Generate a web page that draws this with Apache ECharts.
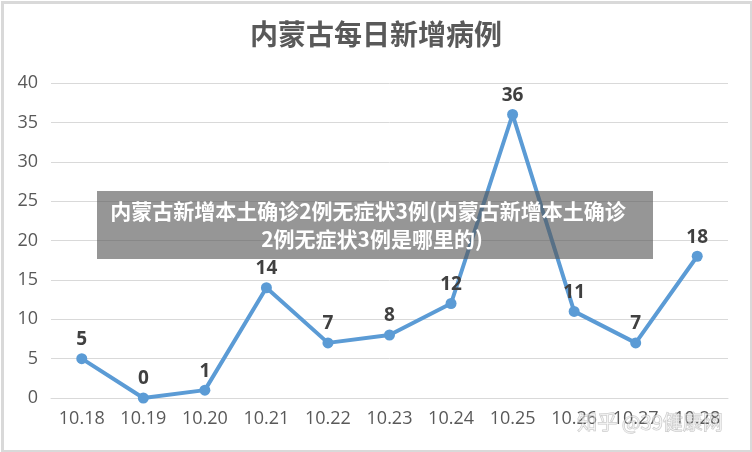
<!DOCTYPE html>
<html><head><meta charset="utf-8">
<script src="https://cdn.jsdelivr.net/npm/echarts@6/dist/echarts.min.js"></script>
<style>html,body{margin:0;padding:0;background:#fff}#c{width:752px;height:452px}</style>
</head><body><div id="c"></div>
<script>
const categories = ['10.18','10.19','10.20','10.21','10.22','10.23','10.24','10.25','10.26','10.27','10.28'];
const cases = [5,0,1,14,7,8,12,36,11,7,18];
const titleText = '内蒙古每日新增病例';
const bannerLines = ['内蒙古新增本土确诊2例无症状3例(内蒙古新增本土确诊', '2例无症状3例是哪里的)'];
const watermark = '知乎 @39健康网';

const chart = echarts.init(document.getElementById('c'));
const font = '"Noto Sans CJK SC", "Noto Sans", sans-serif';
const nfont = '"Open Sans", "Noto Sans", sans-serif';
chart.setOption({
  animation: false,
  title: { text: titleText, left: 'center', top: 15,
    textStyle: { fontFamily: font, fontSize: 28, fontWeight: 'bold', color: '#595959' } },
  grid: { left: 51, right: 24, top: 83, bottom: 54 },
  xAxis: { type: 'category', data: categories, boundaryGap: true,
    axisLine: { show: true, lineStyle: { color: '#d9d9d9', width: 1 } },
    axisTick: { show: false },
    axisLabel: { fontFamily: nfont, fontSize: 18, color: '#595959', margin: 12 } },
  yAxis: { type: 'value', min: 0, max: 40, interval: 5,
    axisLine: { show: false }, axisTick: { show: false },
    splitLine: { lineStyle: { color: '#d9d9d9', width: 1 } },
    axisLabel: { fontFamily: nfont, fontSize: 18, color: '#595959', margin: 13 } },
  series: [{
    type: 'line', data: cases, symbol: 'circle', symbolSize: 11,
    lineStyle: { color: '#5b9bd5', width: 4 },
    itemStyle: { color: '#5b9bd5' },
    label: { show: true, position: 'top', distance: 4, fontFamily: nfont, fontSize: 19, fontWeight: 'bold', color: '#404040' }
  }],
  graphic: [
    { type: 'rect', left: 0, top: 0, z: 100, silent: true,
      shape: { x: 1.5, y: 1.5, width: 749, height: 449 },
      style: { fill: null, stroke: '#d9d9d9', lineWidth: 3 } },
    { type: 'rect', z: 100, silent: true,
      shape: { x: 97, y: 191, width: 556, height: 68 },
      style: { fill: 'rgba(85,85,85,0.62)' } },
    { type: 'text', z: 101, silent: true, x: 368, y: 211,
      style: { text: bannerLines[0], fill: '#fff', font: 'bold 21px ' + font, textAlign: 'center', textVerticalAlign: 'middle' } },
    { type: 'text', z: 101, silent: true, x: 372, y: 239,
      style: { text: bannerLines[1], fill: '#fff', font: 'bold 21px ' + font, textAlign: 'center', textVerticalAlign: 'middle' } },
    { type: 'text', z: 101, silent: true, x: 650, y: 422,
      style: { text: watermark, fill: 'rgba(255,255,255,0.5)', stroke: 'rgba(130,130,130,0.45)', lineWidth: 1, font: '20px ' + font, textAlign: 'center', textVerticalAlign: 'middle' } }
  ]
});
</script></body></html>
